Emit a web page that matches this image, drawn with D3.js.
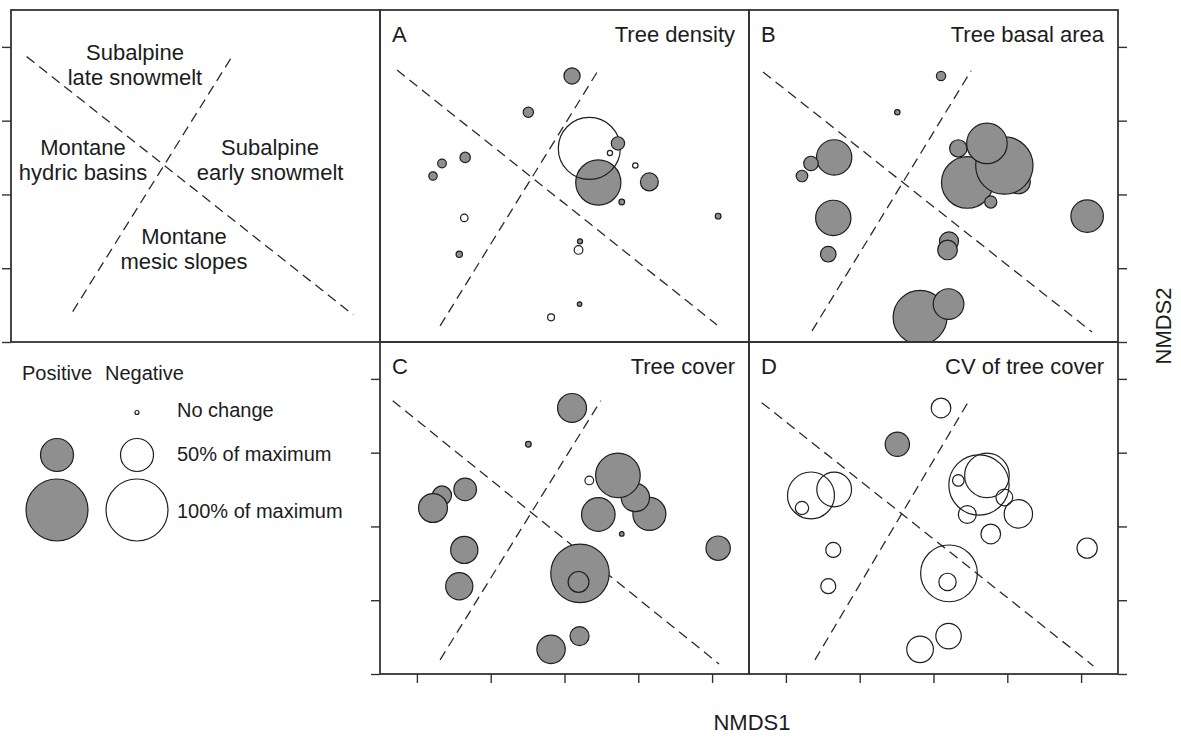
<!DOCTYPE html>
<html><head><meta charset="utf-8">
<script src="https://cdn.jsdelivr.net/npm/d3@7"></script>
<style>
body{margin:0;background:#fff}
svg{display:block}
text{font-family:Arial,"Liberation Sans",sans-serif;fill:#1c1c1c}
</style>
</head><body>
<svg id="chart" width="1181" height="738"></svg>
<script>
// ---- DATA ----
// sites (drawing order), NMDS ordination coordinates
const siteIds = [1, 2, 6, 8, 7, 5, 3, 4, 9, 10, 11, 12, 13, 14, 15, 16, 17, 19, 18];
const nmds1 = [0.051, -0.245, 0.229, 0.575, 0.480, 0.308, 0.168, 0.362, 0.388, 1.041, -0.673, -0.830, -0.891, -0.679, -0.713, 0.105, 0.095, -0.091, 0.102];
const nmds2 = [0.803, 0.557, 0.081, 0.085, 0.196, 0.281, 0.312, 0.346, -0.051, -0.147, 0.251, 0.210, 0.125, -0.159, -0.405, -0.318, -0.376, -0.833, -0.743];
// change as % of maximum (positive = increase, negative = decrease)
const treeDensity   = [21, 11, 71, 24, -2.4, -2, -100, 16, 3, 3, 11, 8, 7.6, -6, 4, 2, -8, -5, 1];
const treeBasalArea = [9, 2.4, 82, 34, 92, 15, 23, 63, 14, 49, 54, 18, 13, 54, 20, 26, 27, 86, 46];
const treeCover     = [43, 3, 51, 50, 42, 10, -8, 70, 1, 35, 32, 26, 43, 40, 40, 94, 29, 42, 26];
const cvTreeCover   = [-27, 35, -24, -42, -22, -97, -13, -70, -27, -28, -53, -74, -16, -19, -19, -91, -23, -39, -37];

// dashed boundary lines per panel: [x1, y1, x2, y2] in NMDS units
const linesOverview = [[-1.144, 0.934, 1.069, -0.816], [-0.832, -0.794, 0.249, 0.938]];
const linesA = [[-1.135, 0.843, 1.033, -0.884], [-0.843, -0.891, 0.234, 0.850]];
const linesB = [[-1.155, 0.830, 1.074, -0.932], [-0.823, -0.925, 0.254, 0.837]];
const linesC = [[-1.164, 0.852, 1.047, -0.932], [-0.843, -0.904, 0.245, 0.852]];
const linesD = [[-1.164, 0.839, 1.083, -0.945], [-0.803, -0.904, 0.240, 0.852]];

// overview region labels (NMDS units, first-line baseline)
const regionNames = [["Subalpine", "late snowmelt"], ["Montane", "hydric basins"], ["Subalpine", "early snowmelt"], ["Montane", "mesic slopes"]];
const regionX = [-0.41, -0.762, 0.505, -0.078];
const regionY = [0.911, 0.268, 0.268, -0.335];

const panelLetters = ["A", "B", "C", "D"];
const panelTitles = ["Tree density", "Tree basal area", "Tree cover", "CV of tree cover"];

const legendLabels = ["No change", "50% of maximum", "100% of maximum"];
const legendValues = [0, 50, 100];

const axisTicks = [-1, -0.5, 0, 0.5, 1];

// ---- LAYOUT ----
const svg = d3.select("#chart");
const W = 369, H = 332;
const colX = [11, 380, 749], rowY = [10, 342];
const x = d3.scaleLinear().domain([-1.25, 1.25]).range([0, W]);
const y = d3.scaleLinear().domain([-1.0, 1.25]).range([H, 0]);
const r = d3.scaleLinear().domain([0, 100]).range([2, 31]);

const GRAY = "#8f8f8f", INK = "#1e1e1e", FRAME = "#333";

const sites = siteIds.map((id, i) => ({id, x: nmds1[i], y: nmds2[i]}));

function drawLines(g, lines) {
  g.selectAll("line.bound").data(lines).join("line")
    .attr("class", "bound")
    .attr("x1", d => x(d[0])).attr("y1", d => y(d[1]))
    .attr("x2", d => x(d[2])).attr("y2", d => y(d[3]))
    .attr("stroke", "#2a2a2a").attr("stroke-width", 1.3)
    .attr("stroke-dasharray", "10,6");
}

function makePanel(cx, cy, id) {
  const g = svg.append("g").attr("transform", `translate(${cx},${cy})`);
  svg.append("defs").append("clipPath").attr("id", "clip" + id)
    .append("rect").attr("width", W).attr("height", H);
  return g;
}

function frame(g) {
  g.append("rect").attr("width", W).attr("height", H)
    .attr("fill", "none").attr("stroke", FRAME).attr("stroke-width", 1.8);
}

function ticks(g, axis, tx, ty) {
  const a = g.append("g").attr("transform", `translate(${tx},${ty})`)
    .call(axis.tickValues(axisTicks).tickSize(9).tickSizeOuter(0).tickFormat(""));
  a.select(".domain").remove();
  a.selectAll(".tick line").attr("stroke", FRAME).attr("stroke-width", 1.4);
}

// Overview panel
{
  const g = makePanel(colX[0], rowY[0], "ov");
  drawLines(g, linesOverview);
  const t = g.selectAll("text.region").data(regionNames).join("text")
    .attr("class", "region")
    .attr("x", (d, i) => x(regionX[i])).attr("y", (d, i) => y(regionY[i]))
    .attr("text-anchor", "middle").attr("font-size", 22);
  t.selectAll("tspan").data((d, i) => d.map(s => ({s, i}))).join("tspan")
    .attr("x", d => x(regionX[d.i]))
    .attr("dy", (d, j) => j === 0 ? 0 : 25)
    .text(d => d.s);
  frame(g);
  ticks(g, d3.axisLeft(y), 0, 0);
}

// Data panels
const panelValues = [treeDensity, treeBasalArea, treeCover, cvTreeCover];
const panelLines = [linesA, linesB, linesC, linesD];
const panelPos = [[colX[1], rowY[0]], [colX[2], rowY[0]], [colX[1], rowY[1]], [colX[2], rowY[1]]];

panelValues.forEach((vals, p) => {
  const g = makePanel(panelPos[p][0], panelPos[p][1], "p" + p);
  const inner = g.append("g").attr("clip-path", `url(#clipp${p})`);
  drawLines(inner, panelLines[p]);
  inner.selectAll("circle").data(sites).join("circle")
    .attr("cx", d => x(d.x)).attr("cy", d => y(d.y))
    .attr("r", (d, i) => r(Math.abs(vals[i])))
    .attr("fill", (d, i) => vals[i] > 0 ? GRAY : "none")
    .attr("stroke", INK).attr("stroke-width", 1.2);
  g.append("text").attr("x", 12).attr("y", 32).attr("font-size", 22).text(panelLetters[p]);
  g.append("text").attr("x", W - 14).attr("y", 32).attr("font-size", 22)
    .attr("text-anchor", "end").text(panelTitles[p]);
  frame(g);
  if (p === 2) ticks(g, d3.axisLeft(y), 0, 0);
  if (p === 1 || p === 3) ticks(g, d3.axisRight(y), W, 0);
  if (p >= 2) ticks(g, d3.axisBottom(x), 0, H);
});

// Legend
{
  const g = svg.append("g").attr("transform", "translate(0,342)");
  g.append("text").attr("x", 22).attr("y", 38).attr("font-size", 20).text("Positive");
  g.append("text").attr("x", 105).attr("y", 38).attr("font-size", 20).text("Negative");
  const rowsY = [70.5, 113, 168];
  const textY = [75, 119, 176];
  legendValues.forEach((v, i) => {
    if (v > 0) {
      g.append("circle").attr("cx", 57).attr("cy", rowsY[i]).attr("r", r(v))
        .attr("fill", GRAY).attr("stroke", INK).attr("stroke-width", 1.2);
    }
    g.append("circle").attr("cx", 137).attr("cy", rowsY[i]).attr("r", r(v))
      .attr("fill", "#fff").attr("stroke", INK).attr("stroke-width", 1.2);
    g.append("text").attr("x", 177).attr("y", textY[i]).attr("font-size", 20).text(legendLabels[i]);
  });
}

// Axis titles
svg.append("text").attr("x", 752).attr("y", 730).attr("text-anchor", "middle")
  .attr("font-size", 22).text("NMDS1");
svg.append("text").attr("transform", "translate(1171,326) rotate(-90)")
  .attr("text-anchor", "middle").attr("font-size", 22).text("NMDS2");
</script>
</body></html>
